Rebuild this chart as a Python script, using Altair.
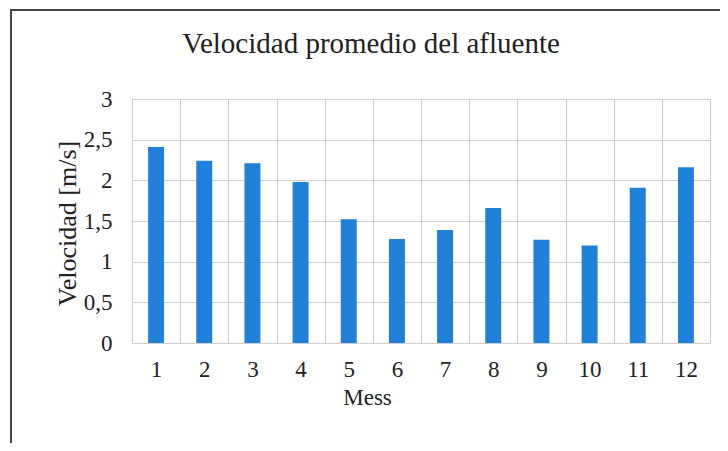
import altair as alt
import pandas as pd

meses = [str(i) for i in range(1, 13)]
velocidad = [2.41, 2.24, 2.21, 1.98, 1.52, 1.28, 1.39, 1.66, 1.27, 1.20, 1.91, 2.16]
titulo = "Velocidad promedio del afluente"
y_ticks = [0, 0.5, 1, 1.5, 2, 2.5, 3]

df = pd.DataFrame({"Mes": meses, "Velocidad": velocidad})
FONT = "Liberation Serif"

bars = alt.Chart(df).mark_bar(color="#2281d6", width=16).encode(
    x=alt.X("Mes:N", sort=meses, title="Mess",
            scale=alt.Scale(paddingInner=0, paddingOuter=0),
            axis=alt.Axis(labelAngle=0, ticks=False, tickSize=0, domain=False,
                          tickBand="extent", grid=True, gridColor="#cfcfcf",
                          labelFont=FONT, labelFontSize=23, labelColor="#222222",
                          labelBaseline="alphabetic", labelPadding=33,
                          titleFont=FONT, titleFontSize=23, titleFontWeight="normal",
                          titleColor="#222222", titleX=235, titleY=61,
                          titleBaseline="alphabetic")),
    y=alt.Y("Velocidad:Q", title="Velocidad [m/s]",
            scale=alt.Scale(domain=[0, 3], nice=False),
            axis=alt.Axis(values=y_ticks, ticks=False, tickSize=0, domain=False,
                          grid=True, gridColor="#cfcfcf",
                          labelExpr="replace(format(datum.value, ''), '.', ',')",
                          labelFont=FONT, labelFontSize=23, labelColor="#222222",
                          labelPadding=20,
                          titleFont=FONT, titleFontSize=26, titleFontWeight="normal",
                          titleColor="#222222", titleX=-57, titleY=124,
                          titleAngle=270, titleAlign="center",
                          titleBaseline="alphabetic")),
)

title_df = pd.DataFrame({"t": [titulo]})
title_mark = alt.Chart(title_df).mark_text(
    font=FONT, fontSize=29, color="#222222", align="center", baseline="alphabetic"
).encode(text="t:N", x=alt.value(239), y=alt.value(-46))

frame = alt.Chart(title_df).mark_rect(
    filled=False, stroke="#444444", strokeWidth=2
).encode(x=alt.value(-121), x2=alt.value(800), y=alt.value(-89), y2=alt.value(500))

chart = alt.layer(frame, bars, title_mark).properties(
    width=578, height=244,
    autosize=alt.AutoSizeParams(type="none"),
    padding={"left": 124, "top": 91, "right": 10, "bottom": 100},
    background="white",
).configure_view(stroke="#cfcfcf")

chart.save("out.html", embed_options={"renderer": "svg", "actions": False})
